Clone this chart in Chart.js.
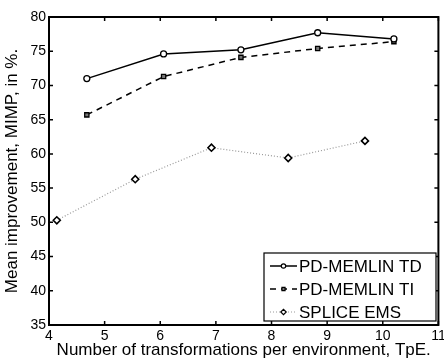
<!DOCTYPE html>
<html lang="en">
<head>
<meta charset="UTF-8">
<title>MIMP vs TpE</title>
<script src="https://cdn.jsdelivr.net/npm/chart.js"></script>
<style>
  html, body { margin: 0; padding: 0; background: #fff; }
  #wrap { width: 444px; height: 361px; }
</style>
</head>
<body>
<div id="wrap"><canvas id="c" width="444" height="361"></canvas></div>
<script>
// data
const seriesNames = ['PD-MEMLIN TD', 'PD-MEMLIN TI', 'SPLICE EMS'];
const tdX = [4.68, 6.06, 7.45, 8.83, 10.2];
const tdY = [71.0, 74.6, 75.2, 77.7, 76.8];
const tiX = [4.68, 6.06, 7.45, 8.83, 10.2];
const tiY = [65.7, 71.3, 74.1, 75.4, 76.4];
const emsX = [4.14, 5.55, 6.92, 8.3, 9.68];
const emsY = [50.3, 56.3, 60.9, 59.4, 61.9];
const xTicks = [4, 5, 6, 7, 8, 9, 10, 11];
const yTicks = [35, 40, 45, 50, 55, 60, 65, 70, 75, 80];

const FONT = 'Liberation Sans, Arial, Helvetica, sans-serif';
const pts = (xs, ys) => xs.map((x, i) => ({ x: x, y: ys[i] }));

// box + inward ticks + legend, matlab style
const boxPlugin = {
    id: 'box',
    afterDraw(chart) {
        const ctx = chart.ctx;
        const a = chart.chartArea;
        const sx = chart.scales.x, sy = chart.scales.y;
        ctx.save();
        ctx.strokeStyle = '#000';
        ctx.lineWidth = 1.5;
        xTicks.forEach(v => {
            const p = sx.getPixelForValue(v);
            ctx.beginPath();
            ctx.moveTo(p, a.bottom); ctx.lineTo(p, a.bottom - 4);
            ctx.moveTo(p, a.top); ctx.lineTo(p, a.top + 4);
            ctx.stroke();
        });
        yTicks.forEach(v => {
            const p = sy.getPixelForValue(v);
            ctx.beginPath();
            ctx.moveTo(a.left, p); ctx.lineTo(a.left + 4, p);
            ctx.moveTo(a.right, p); ctx.lineTo(a.right - 4, p);
            ctx.stroke();
        });
        ctx.lineWidth = 2;
        ctx.strokeRect(a.left, a.top, a.right - a.left, a.bottom - a.top);

        // legend
        const lx = 264, ly = 253, lw = 172, lh = 68;
        ctx.fillStyle = '#fff';
        ctx.fillRect(lx, ly, lw, lh);
        ctx.lineWidth = 1.2;
        ctx.strokeRect(lx, ly, lw, lh);
        ctx.font = '17px ' + FONT;
        ctx.textBaseline = 'middle';
        chart.data.datasets.forEach((ds, i) => {
            const yy = ly + 13 + i * 23;
            ctx.save();
            ctx.strokeStyle = ds.borderColor;
            ctx.lineWidth = ds.borderWidth;
            ctx.setLineDash(ds.borderDash || []);
            ctx.beginPath();
            ctx.moveTo(lx + 6, yy); ctx.lineTo(lx + 33, yy);
            ctx.stroke();
            ctx.restore();
            ctx.save();
            ctx.fillStyle = ds.pointBackgroundColor;
            ctx.strokeStyle = ds.pointBorderColor;
            Chart.helpers.drawPoint(ctx, {
                pointStyle: ds.pointStyle,
                radius: ds.pointRadius - 0.8,
                borderWidth: ds.pointBorderWidth,
                rotation: 0
            }, lx + 19.5, yy);
            ctx.restore();
            ctx.fillStyle = '#000';
            ctx.fillText(ds.label, lx + 35, yy + 1);
        });
        ctx.restore();
    }
};

const datasets = [
    {
        label: seriesNames[0],
        data: pts(tdX, tdY),
        borderColor: '#000',
        borderWidth: 1.5,
        pointStyle: 'circle',
        pointRadius: 3,
        pointBorderWidth: 1.3,
        pointBackgroundColor: '#fff',
        pointBorderColor: '#000'
    },
    {
        label: seriesNames[1],
        data: pts(tiX, tiY),
        borderColor: '#000',
        borderWidth: 1.5,
        borderDash: [6, 5],
        pointStyle: 'rect',
        pointRadius: 3,
        pointBorderWidth: 1.3,
        pointBackgroundColor: '#777',
        pointBorderColor: '#000'
    },
    {
        label: seriesNames[2],
        data: pts(emsX, emsY),
        borderColor: '#999',
        borderWidth: 1.2,
        borderDash: [1, 2],
        pointStyle: 'rectRot',
        pointRadius: 3.5,
        pointBorderWidth: 1.6,
        pointBackgroundColor: '#fff',
        pointBorderColor: '#000'
    }
];

new Chart(document.getElementById('c').getContext('2d'), {
    type: 'line',
    data: { datasets: datasets },
    options: {
        responsive: false,
        animation: false,
        devicePixelRatio: 1,
        layout: { padding: { top: 17, right: 4, left: 0, bottom: 0 } },
        plugins: {
            legend: { display: false },
            tooltip: { enabled: false }
        },
        scales: {
            x: {
                type: 'linear',
                min: 4,
                max: 11,
                afterBuildTicks(s) { s.ticks = xTicks.map(v => ({ value: v })); },
                afterFit(s) { s.height = 36; s.paddingLeft = 0; s.paddingRight = 0; },
                grid: { display: false, drawTicks: false },
                border: { display: false },
                ticks: { color: '#000', font: { family: FONT, size: 14 }, padding: 3, maxRotation: 0, autoSkip: false },
                title: {
                    display: true,
                    text: 'Number of transformations per environment, TpE.',
                    color: '#000',
                    font: { family: FONT, size: 17 },
                    padding: { top: 0, bottom: 0 }
                }
            },
            y: {
                min: 35,
                max: 80,
                afterBuildTicks(s) { s.ticks = yTicks.map(v => ({ value: v })); },
                afterFit(s) { s.width = 49; },
                grid: { display: false, drawTicks: false },
                border: { display: false },
                ticks: { color: '#000', font: { family: FONT, size: 14 }, padding: 3 },
                title: {
                    display: true,
                    text: 'Mean improvement, MIMP, in %.',
                    color: '#000',
                    font: { family: FONT, size: 17 },
                    padding: { top: 2, bottom: 0 }
                }
            }
        }
    },
    plugins: [boxPlugin]
});
</script>
</body>
</html>
